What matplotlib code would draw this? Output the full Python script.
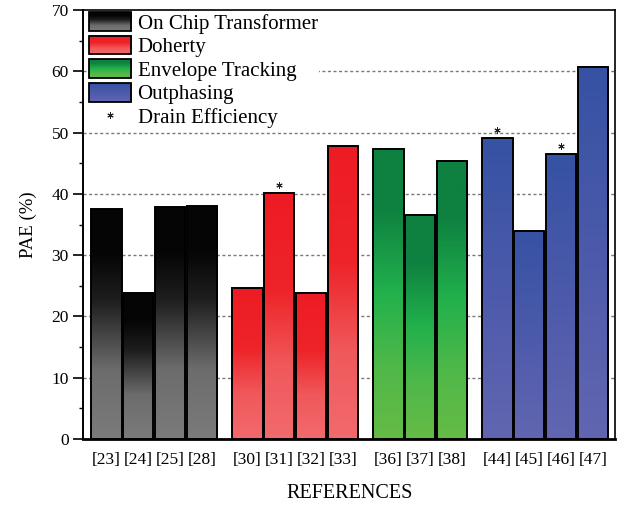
import numpy as np
import matplotlib
matplotlib.use("Agg")
import matplotlib.pyplot as plt
from matplotlib.colors import LinearSegmentedColormap
from matplotlib.patches import Rectangle
from matplotlib.legend_handler import HandlerBase
from matplotlib.image import BboxImage
from matplotlib.transforms import Bbox, TransformedBbox

plt.rcParams['font.family'] = ['Liberation Serif', 'DejaVu Serif']

# data
groups = ["On Chip Transformer", "Doherty", "Envelope Tracking", "Outphasing"]
refs = [["[23]", "[24]", "[25]", "[28]"],
        ["[30]", "[31]", "[32]", "[33]"],
        ["[36]", "[37]", "[38]"],
        ["[44]", "[45]", "[46]", "[47]"]]
pae = [[37.6, 23.9, 37.9, 38.1],
       [24.6, 40.1, 23.9, 47.9],
       [47.4, 36.5, 45.3],
       [49.2, 34.0, 46.5, 60.7]]
# bars whose value is drain efficiency (marked with *)
drain_eff = ["[31]", "[44]", "[46]"]

# gradients, bottom -> top
grad_stops = [
    [(0.0, "#7b7b7b"), (0.3, "#6c6c6c"), (0.6, "#1e1e1e"), (0.8, "#060606"), (1.0, "#050505")],
    [(0.0, "#f26a6d"), (0.3, "#f0585b"), (0.6, "#ee2428"), (1.0, "#ed1c24")],
    [(0.0, "#66bb46"), (0.25, "#4fb849"), (0.5, "#22b14c"), (0.8, "#0e8040"), (1.0, "#0e8040")],
    [(0.0, "#6266b0"), (0.5, "#4c5aab"), (1.0, "#3652a3")],
]
cmaps = [LinearSegmentedColormap.from_list("g%d" % i, s) for i, s in enumerate(grad_stops)]

gap = 0.42
width = 0.96

fig, ax = plt.subplots(figsize=(6.19, 5.09), dpi=100)
fig.subplots_adjust(left=0.1346, right=0.9935, bottom=0.1375, top=0.980)

grad = np.linspace(0, 1, 256).reshape(-1, 1)
xpos, xlab = [], []
pos = 0.0
for gi, (names, vals) in enumerate(zip(refs, pae)):
    for name, v in zip(names, vals):
        x0 = pos - width / 2
        im = ax.imshow(grad, cmap=cmaps[gi], origin="lower", aspect="auto",
                       extent=(x0, x0 + width, 0, v), zorder=3, interpolation="bilinear")
        rect = Rectangle((x0, 0), width, v, facecolor="none", edgecolor="black",
                         linewidth=1.4, zorder=4)
        ax.add_patch(rect)
        im.set_clip_path(rect)
        if name in drain_eff:
            ax.plot(pos, v + 1.3, marker=(6, 2, 0), markersize=4.5, color="#222222",
                    markeredgewidth=0.7, zorder=5)
        xpos.append(pos)
        xlab.append(name)
        pos += 1
    pos += gap

ax.set_xlim(-0.72, xpos[-1] + 0.69)
ax.set_ylim(0, 70)
ax.set_xticks(xpos)
ax.set_xticklabels(xlab, fontsize=12.5)
ax.tick_params(axis="x", length=0, pad=9)
ax.set_yticks(np.arange(0, 71, 10))
ax.set_yticks(np.arange(5, 70, 10), minor=True)
ax.tick_params(axis="y", which="major", length=7, width=1.2, direction="out", labelsize=12.5)
ax.tick_params(axis="y", which="minor", length=3, width=1.0, direction="out")
ax.set_xlabel("REFERENCES", fontsize=14.5, labelpad=12)
ax.set_ylabel("PAE (%)", fontsize=13.5, labelpad=10)

for y in range(10, 70, 10):
    ax.axhline(y, color="#7a7a7a", linestyle=(0, (2.2, 1.8)), linewidth=1.0, zorder=1)

ax.spines["bottom"].set_linewidth(2.0)
ax.spines["left"].set_linewidth(1.4)
ax.spines["top"].set_linewidth(1.2)
ax.spines["right"].set_linewidth(1.2)


class GradHandler(HandlerBase):
    def create_artists(self, legend, orig_handle, xdescent, ydescent, width, height,
                       fontsize, trans):
        bb = Bbox.from_bounds(-xdescent, -ydescent, width, height)
        img = BboxImage(TransformedBbox(bb, trans), cmap=orig_handle.cmap,
                        origin="lower", interpolation="bilinear")
        img.set_data(grad)
        edge = Rectangle((-xdescent, -ydescent), width, height, facecolor="none",
                         edgecolor="black", linewidth=1.3, transform=trans)
        return [img, edge]


class GradKey:
    def __init__(self, cmap):
        self.cmap = cmap


handles = [GradKey(c) for c in cmaps]
star, = ax.plot([], [], linestyle="none", marker=(6, 2, 0), markersize=4.5,
                color="#222222", markeredgewidth=0.7)
leg = ax.legend(handles + [star], groups + ["Drain Efficiency"],
                handler_map={GradKey: GradHandler()},
                loc="upper left", bbox_to_anchor=(0.006, 1.0), fontsize=15,
                handlelength=2.05, handleheight=1.0, labelspacing=0.1,
                handletextpad=0.3, borderpad=0.05, borderaxespad=0.05,
                frameon=True, fancybox=False, framealpha=1.0,
                facecolor="white", edgecolor="none")
leg.set_zorder(6)

fig.savefig("out.png", dpi=100)
